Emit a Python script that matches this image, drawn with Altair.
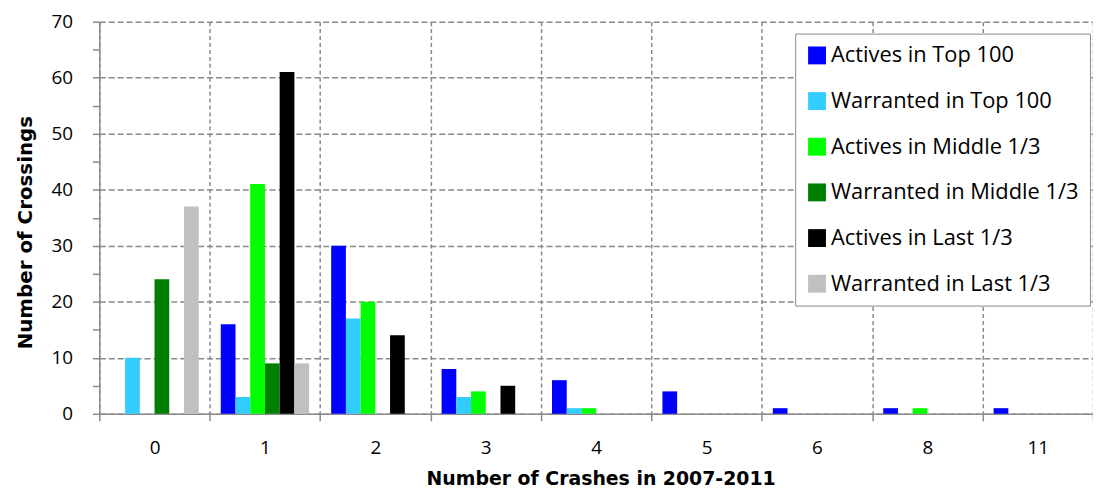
import altair as alt
import pandas as pd

crashes = ["0", "1", "2", "3", "4", "5", "6", "8", "11"]
series = [
    "Actives in Top 100",
    "Warranted in Top 100",
    "Actives in Middle 1/3",
    "Warranted in Middle 1/3",
    "Actives in Last 1/3",
    "Warranted in Last 1/3",
]
colors = ["#0000FF", "#33CCFF", "#00FF00", "#008000", "#000000", "#C0C0C0"]

actives_top = [0, 16, 30, 8, 6, 4, 1, 1, 1]
warranted_top = [10, 3, 17, 3, 1, 0, 0, 0, 0]
actives_mid = [0, 41, 20, 4, 1, 0, 0, 1, 0]
warranted_mid = [24, 9, 0, 0, 0, 0, 0, 0, 0]
actives_last = [0, 61, 14, 5, 0, 0, 0, 0, 0]
warranted_last = [37, 9, 0, 0, 0, 0, 0, 0, 0]

values = [actives_top, warranted_top, actives_mid, warranted_mid, actives_last, warranted_last]
rows = []
for s, vals in zip(series, values):
    for c, v in zip(crashes, vals):
        rows.append({"crashes": c, "series": s, "count": v})
df = pd.DataFrame(rows)

FONT = "Open Sans"
TFONT = "DejaVu Sans"
GRID = "#8a8a8a"

chart = alt.Chart(df).mark_bar().encode(
    x=alt.X(
        "crashes:N",
        sort=crashes,
        scale=alt.Scale(paddingInner=0, paddingOuter=0),
        axis=alt.Axis(
            title="Number of Crashes in 2007-2011",
            labelAngle=0,
            tickBand="extent",
            grid=True,
            gridDash=[4, 3],
            gridColor=GRID,
            gridWidth=1.5,
            tickSize=7,
            tickColor=GRID,
            tickWidth=1.5,
            domainColor=GRID,
            domainWidth=1.5,
            labelFont=FONT,
            labelFontSize=19,
            labelColor="black",
            labelPadding=18,
            titleFont=TFONT,
            titleFontSize=19,
            titleFontWeight="bold",
            titleColor="black",
            titlePadding=12,
            titleX=505,
        ),
    ),
    xOffset=alt.XOffset(
        "series:N",
        sort=series,
        scale=alt.Scale(paddingInner=0, paddingOuter=0.75),
    ),
    y=alt.Y(
        "count:Q",
        scale=alt.Scale(domain=[0, 70], nice=False),
        axis=alt.Axis(
            title="Number of Crossings",
            values=list(range(0, 75, 5)),
            labelExpr="datum.value % 10 === 0 ? datum.label : ''",
            grid=True,
            gridDash=[6, 3],
            gridColor=GRID,
            gridWidth=1.5,
            gridOpacity={"condition": {"test": "datum.value % 10 === 0", "value": 1}, "value": 0},
            tickSize=7,
            tickColor=GRID,
            tickWidth=1.5,
            domainColor=GRID,
            domainWidth=1.5,
            labelFont=FONT,
            labelFontSize=19,
            labelColor="black",
            labelPadding=20,
            titleFont=TFONT,
            titleFontSize=20,
            titleFontWeight="bold",
            titleColor="black",
            titlePadding=16,
            titleY=212,
        ),
    ),
    color=alt.Color(
        "series:N",
        sort=series,
        scale=alt.Scale(domain=series, range=colors),
        legend=alt.Legend(
            title=None,
            orient="none",
            legendX=701,
            legendY=12,
            fillColor="white",
            strokeColor=GRID,
            padding=11,
            symbolType="square",
            symbolSize=324,
            symbolStrokeWidth=0,
            symbolOpacity=1,
            labelFont=FONT,
            labelFontSize=22,
            labelColor="black",
            labelOffset=3,
            rowPadding=24,
            labelLimit=400,
        ),
    ),
).properties(
    width=1001,
    height=395,
    autosize=alt.AutoSizeParams(type="none"),
    padding={"left": 92, "top": 12, "right": 0, "bottom": 74},
    background="white",
).configure_view(strokeWidth=0)

chart.save("out.html", embed_options={"renderer": "svg", "actions": False})
